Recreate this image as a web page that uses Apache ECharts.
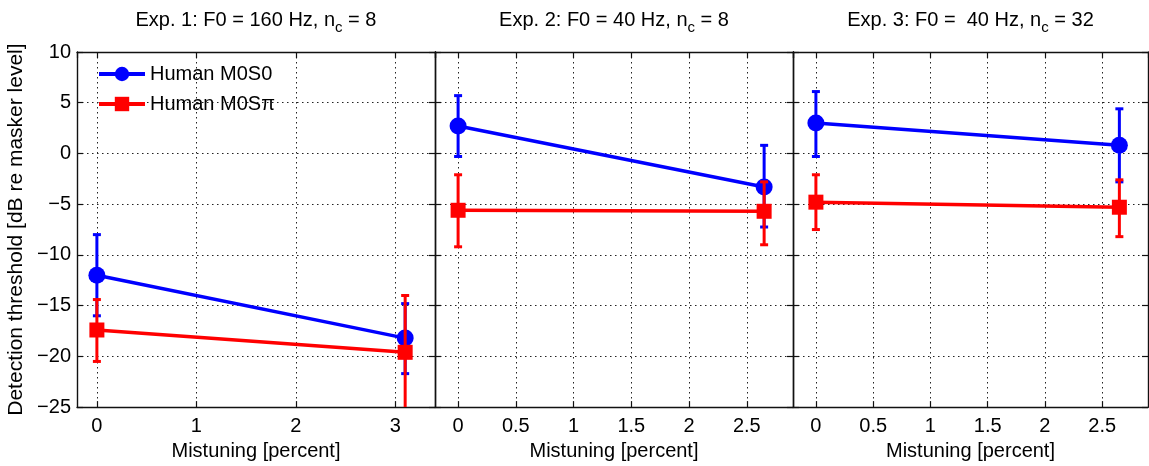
<!DOCTYPE html>
<html><head><meta charset="utf-8">
<script src="https://cdn.jsdelivr.net/npm/echarts@6/dist/echarts.min.js"></script>
<style>html,body{margin:0;padding:0;background:#fff}#c{width:1149px;height:466px}</style>
</head><body><div id="c"></div>
<script>
// ---- data ----
const panelTitles = ['Exp. 1: F0 = 160 Hz, n{c|c} = 8', 'Exp. 2: F0 = 40 Hz, n{c|c} = 8', 'Exp. 3: F0 =  40 Hz, n{c|c} = 32'];
const seriesNames = ['Human M0S0', 'Human M0S\u03c0'];
const mistuning = [[0, 3.1], [0, 2.65], [0, 2.65]];
const m0s0 = [[-12.0, -18.2], [2.7, -3.3], [3.0, 0.8]];
const m0s0Low = [[-16.0, -21.7], [-0.3, -7.25], [-0.3, -2.8]];
const m0s0High = [[-8.0, -14.8], [5.7, 0.8], [6.1, 4.4]];
const m0spi = [[-17.4, -19.6], [-5.6, -5.7], [-4.8, -5.3]];
const m0spiLow = [[-20.5, -25.6], [-9.2, -9.0], [-7.5, -8.2]];
const m0spiHigh = [[-14.4, -14.0], [-2.1, -2.8], [-2.1, -2.6]];
const xRanges = [[-0.2, 3.4], [-0.2, 2.9], [-0.2, 2.9]];
const yRange = [-25, 10];
const yTickStep = 5;
const xLabel = 'Mistuning [percent]';
const yLabel = 'Detection threshold [dB re masker level]';

// ---- layout ----
const FONT = '"Liberation Sans", Arial, Helvetica, sans-serif';
const gridLefts = [77, 435, 793];
const gridWidths = [358, 358, 355];
const gridTop = 52, gridHeight = 357;
const BLUE = '#0000ff', RED = '#ff0000';
const minus = v => String(v).replace('-', '\u2212');

const chart = echarts.init(document.getElementById('c'), null, {renderer: 'canvas'});

const grid = [], xAxis = [], yAxis = [], series = [], graphic = [];
const axisLine = {show: true, onZero: false, lineStyle: {color: '#111', width: 1.4}};
const split = {show: true, lineStyle: {color: '#222', width: 1, type: [1.5, 3.5]}};
const tick = {show: true, inside: true, length: 6, lineStyle: {color: '#111', width: 1.2}};

gridLefts.forEach((l, i) => {
  grid.push({left: l, top: gridTop, width: gridWidths[i], height: gridHeight, show: false});
  xAxis.push({type: 'value', gridIndex: i, position: 'bottom', min: xRanges[i][0], max: xRanges[i][1], splitNumber: 5,
    axisLine, axisTick: tick,
    axisLabel: {show: true, showMinLabel: false, showMaxLabel: false, margin: 9, color: '#000', fontSize: 20, fontFamily: FONT, formatter: minus},
    splitLine: split,
    name: xLabel, nameLocation: 'middle', nameGap: 28, nameTextStyle: {color: '#000', fontSize: 20, fontFamily: FONT}});
  xAxis.push({type: 'value', gridIndex: i, position: 'top', min: xRanges[i][0], max: xRanges[i][1], splitNumber: 5,
    axisLine, axisTick: tick, axisLabel: {show: false}, splitLine: {show: false}});
  yAxis.push({type: 'value', gridIndex: i, position: 'left', min: yRange[0], max: yRange[1], interval: yTickStep,
    axisLine, axisTick: tick,
    axisLabel: {show: i === 0, margin: 6, color: '#000', fontSize: 20, fontFamily: FONT, formatter: minus},
    splitLine: split,
    name: i === 0 ? yLabel : '', nameLocation: 'middle', nameGap: 50, nameTextStyle: {color: '#000', fontSize: 21, fontFamily: FONT}});
  yAxis.push({type: 'value', gridIndex: i, position: 'right', min: yRange[0], max: yRange[1], interval: yTickStep,
    axisLine, axisTick: tick, axisLabel: {show: false}, splitLine: {show: false}});

  const xs = mistuning[i];
  const errSeries = (lo, hi, color, z) => ({
    type: 'custom', xAxisIndex: 2 * i, yAxisIndex: 2 * i, z, clip: true, silent: true,
    data: xs.map((x, k) => [x, lo[k], hi[k]]),
    encode: {x: 0, y: [1, 2]},
    renderItem(params, api) {
      const x = api.value(0);
      const a = api.coord([x, api.value(1)]);
      const b = api.coord([x, api.value(2)]);
      const cw = 4;
      const style = {stroke: color, lineWidth: 3, fill: null};
      return {type: 'group', children: [
        {type: 'line', shape: {x1: a[0], y1: a[1], x2: b[0], y2: b[1]}, style},
        {type: 'line', shape: {x1: a[0] - cw, y1: a[1], x2: a[0] + cw, y2: a[1]}, style},
        {type: 'line', shape: {x1: b[0] - cw, y1: b[1], x2: b[0] + cw, y2: b[1]}, style}
      ]};
    }
  });
  series.push(errSeries(m0s0Low[i], m0s0High[i], BLUE, 2));
  series.push({type: 'line', name: seriesNames[0], xAxisIndex: 2 * i, yAxisIndex: 2 * i, z: 3,
    data: xs.map((x, k) => [x, m0s0[i][k]]), symbol: 'circle', symbolSize: 17,
    lineStyle: {color: BLUE, width: 3.5}, itemStyle: {color: BLUE, borderWidth: 0}, emphasis: {disabled: true}});
  series.push(errSeries(m0spiLow[i], m0spiHigh[i], RED, 4));
  series.push({type: 'line', name: seriesNames[1], xAxisIndex: 2 * i, yAxisIndex: 2 * i, z: 5,
    data: xs.map((x, k) => [x, m0spi[i][k]]), symbol: 'rect', symbolSize: 15,
    lineStyle: {color: RED, width: 3.5}, itemStyle: {color: RED, borderWidth: 0}, emphasis: {disabled: true}});

  graphic.push({type: 'text', x: l + gridWidths[i] / 2, y: 6, silent: true,
    style: {text: panelTitles[i], fontSize: 20, fontFamily: FONT, fill: '#000', align: 'center', verticalAlign: 'top',
      rich: {c: {fontSize: 15, fontFamily: FONT, fill: '#000', padding: [14, 0, 0, 0]}}}});
});

chart.setOption({
  animation: false,
  backgroundColor: '#fff',
  grid, xAxis, yAxis, series, graphic,
  legend: {data: seriesNames, orient: 'vertical', left: 92, top: 59, itemWidth: 46, itemHeight: 18, itemGap: 10,
    selectedMode: false, lineStyle: {width: 4}, textStyle: {color: '#000', fontSize: 20, fontFamily: FONT, lineHeight: 19}}
});
</script></body></html>
